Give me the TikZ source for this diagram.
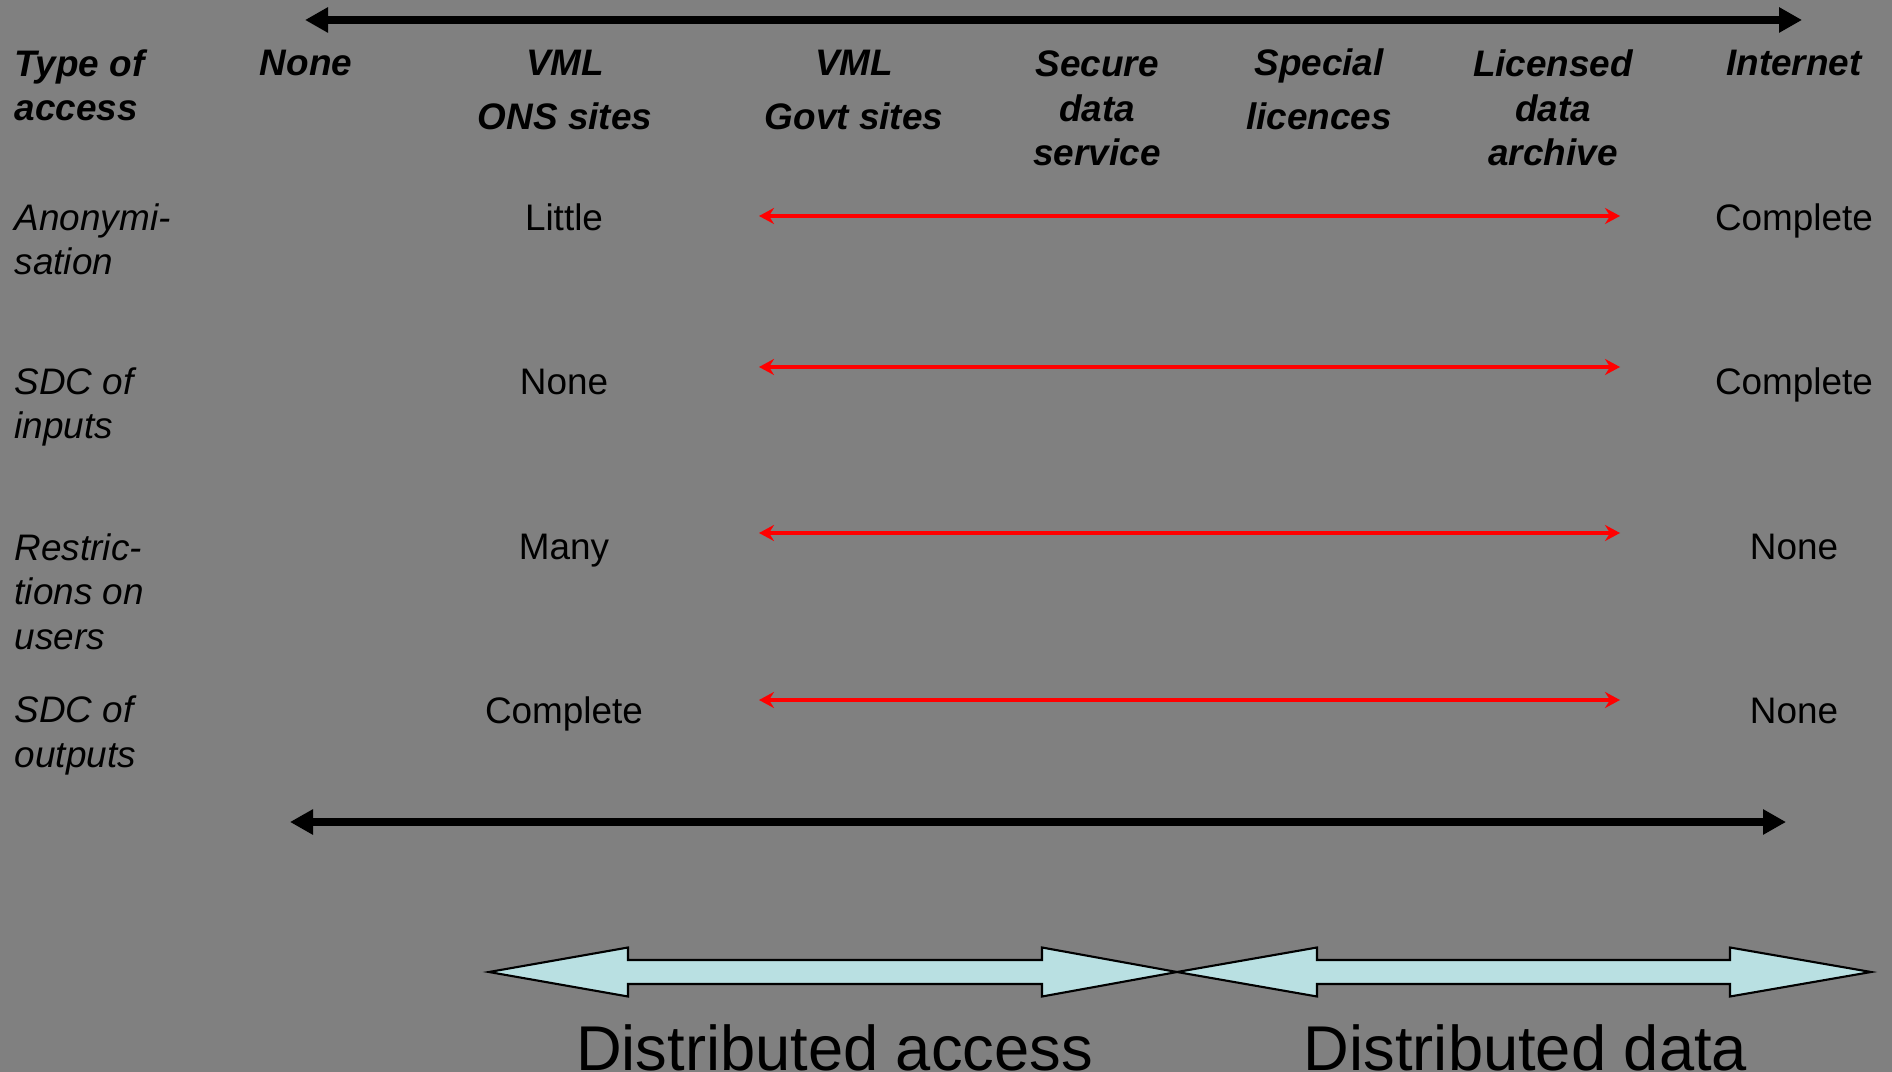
\documentclass[tikz,border=0pt]{standalone}
\usepackage{fontspec}
\setmainfont{Liberation Sans}
\usetikzlibrary{arrows.meta}
\definecolor{bggray}{RGB}{128,128,128}
\definecolor{spanfill}{RGB}{185,224,226}

\begin{document}
\begin{tikzpicture}
\tikzset{
  head/.style={font=\fontsize{10.5}{12.8}\selectfont\bfseries\itshape, align=center, anchor=base, inner sep=0pt},
  rowlab/.style={font=\fontsize{10.5}{12.6}\selectfont\itshape, align=left, anchor=base west, inner sep=0pt},
  val/.style={font=\fontsize{10.5}{12.6}\selectfont, anchor=base, inner sep=0pt},
  bigarrow/.style={line width=0.08cm, {Triangle[length=0.23cm,width=0.24cm]}-{Triangle[length=0.23cm,width=0.24cm]}},
  redarrow/.style={red, line width=0.035cm, {Stealth[length=0.15cm,width=0.16cm,inset=0.05cm]}-{Stealth[length=0.15cm,width=0.16cm,inset=0.05cm]}},
  span/.style={draw=black, line width=0.6pt, fill=spanfill},
  bottomtext/.style={font=\fontsize{18}{18}\selectfont, anchor=base, inner sep=0pt}
}
    % 背景
    \fill[bggray] (0,0) rectangle (18.92,-10.72);
    \useasboundingbox (0,0) rectangle (18.92,-10.72);

    % 顶部和底部的箭头
    \coordinate (topL) at (3.05,-0.20);
    \coordinate (topR) at (18.02,-0.20);
    \draw[bigarrow] (topL) -- (topR);
    \coordinate (botL) at (2.90,-8.22);
    \coordinate (botR) at (17.86,-8.22);
    \draw[bigarrow] (botL) -- (botR);

    % 表头 (锚点在最后一行的基线)
    \node[head, align=left, anchor=base west] (typeacc) at (0.14,-1.21) {Type of\\access};
    \node[head] (none) at (3.06,-0.76) {None};
    \node[head] (vmlons) at (5.65,-1.30) {VML\\[2.6pt]ONS sites};
    \node[head] (vmlgovt) at (8.54,-1.30) {VML\\[2.6pt]Govt sites};
    \node[head] (secure) at (10.97,-1.66) {Secure\\data\\service};
    \node[head] (special) at (13.19,-1.30) {Special\\[2.6pt]licences};
    \node[head] (licensed) at (15.53,-1.66) {Licensed\\data\\archive};
    \node[head] (internet) at (17.94,-0.76) {Internet};

    % 各行
    \node[rowlab] (anon) at (0.14,-2.75) {Anonymi-\\sation};
    \node[rowlab] (sdcin) at (0.14,-4.39) {SDC of\\inputs};
    \node[rowlab] (restr) at (0.14,-6.49) {Restric-\\tions on\\users};
    \node[rowlab] (sdcout) at (0.14,-7.67) {SDC of\\outputs};

    \node[val] (anonlo) at (5.64,-2.31) {Little};
    \node[val] (sdcinlo) at (5.64,-3.95) {None};
    \node[val] (restrlo) at (5.64,-5.60) {Many};
    \node[val] (sdcoutlo) at (5.64,-7.23) {Complete};
    \node[val] (anonhi) at (17.94,-2.31) {Complete};
    \node[val] (sdcinhi) at (17.94,-3.95) {Complete};
    \node[val] (restrhi) at (17.94,-5.60) {None};
    \node[val] (sdcouthi) at (17.94,-7.23) {None};

    % 红色箭头
    \foreach \y/\n in {2.16/a,3.67/b,5.33/c,7.00/d} {
        \coordinate (r\n L) at (7.59,-\y);
        \coordinate (r\n R) at (16.20,-\y);
        \draw[redarrow] (r\n L) -- (r\n R);
    }

    % 底部的双向箭头
    \draw[span] (4.89,-9.72) -- (6.28,-9.475) -- (6.28,-9.60) -- (10.42,-9.60) -- (10.42,-9.475) -- (11.77,-9.72)
        -- (10.42,-9.965) -- (10.42,-9.84) -- (6.28,-9.84) -- (6.28,-9.965) -- cycle;
    \draw[span] (11.77,-9.72) -- (13.17,-9.475) -- (13.17,-9.60) -- (17.30,-9.60) -- (17.30,-9.475) -- (18.71,-9.72)
        -- (17.30,-9.965) -- (17.30,-9.84) -- (13.17,-9.84) -- (13.17,-9.965) -- cycle;

    \node[bottomtext] (distacc) at (8.345,-10.70) {Distributed access};
    \node[bottomtext] (distdata) at (15.255,-10.70) {Distributed data};

\end{tikzpicture}
\end{document}
